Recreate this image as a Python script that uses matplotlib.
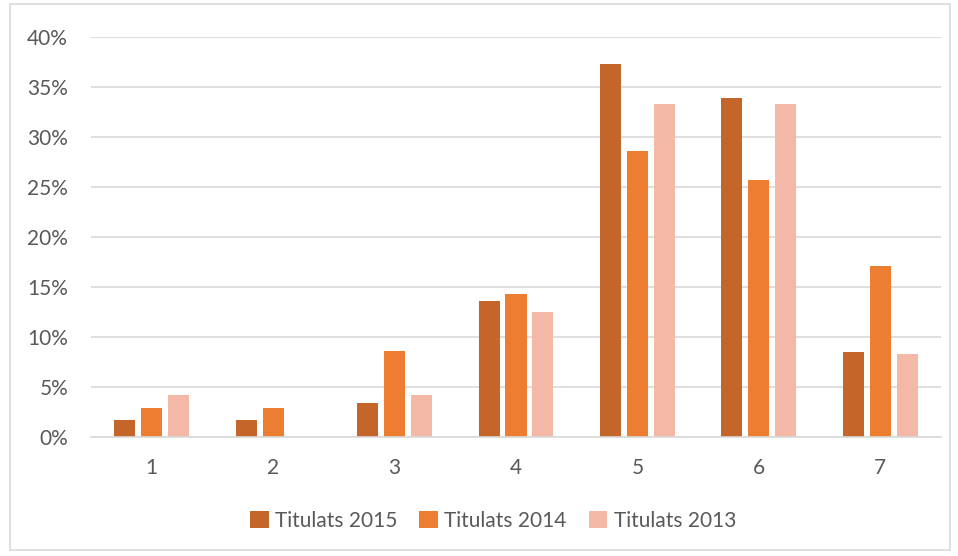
import matplotlib.pyplot as plt
import numpy as np
from matplotlib.patches import Rectangle
from matplotlib.ticker import PercentFormatter

# Dades del grafic
categories = ['1', '2', '3', '4', '5', '6', '7']
titulats_2015 = [1.69, 1.69, 3.39, 13.56, 37.29, 33.90, 8.47]
titulats_2014 = [2.86, 2.86, 8.57, 14.29, 28.57, 25.71, 17.14]
titulats_2013 = [4.17, 0.0, 4.17, 12.50, 33.33, 33.33, 8.33]
series_names = ['Titulats 2015', 'Titulats 2014', 'Titulats 2013']
colors = ['#C4662A', '#ED7D31', '#F4B9A6']

plt.rcParams['font.family'] = ['Lato', 'DejaVu Sans']
text_color = '#595959'

fig = plt.figure(figsize=(9.58, 5.56), dpi=100)
ax = fig.add_axes([91 / 958, 1 - 437 / 556, 850 / 958, 400 / 556])

x = np.arange(len(categories))
w = 0.173
step = 0.222
for k, vals in enumerate([titulats_2015, titulats_2014, titulats_2013]):
    ax.bar(x + (k - 1) * step, vals, width=w, color=colors[k],
           label=series_names[k], zorder=3)

ax.set_xlim(-0.5, len(categories) - 0.5)
ax.set_ylim(0, 40)
ax.set_yticks(np.arange(0, 41, 5))
ax.yaxis.set_major_formatter(PercentFormatter(decimals=0))
ax.set_xticks(x)
ax.set_xticklabels(categories)
ax.grid(axis='y', color='#D9D9D9', linewidth=1.2, zorder=0)
ax.tick_params(axis='both', length=0, colors=text_color, labelsize=15)
ax.tick_params(axis='x', pad=15)
ax.tick_params(axis='y', pad=16.5)
for s in ['top', 'right', 'left']:
    ax.spines[s].set_visible(False)
ax.spines['bottom'].set_color('#D9D9D9')
ax.spines['bottom'].set_linewidth(1.2)
ax.spines['bottom'].set_zorder(4)

leg = fig.legend(loc='center', bbox_to_anchor=(493 / 958, 1 - 521 / 556), ncol=3,
                 frameon=False, fontsize=15, handlelength=0.9, handleheight=0.9,
                 columnspacing=1.05, handletextpad=0.3)
for t in leg.get_texts():
    t.set_color(text_color)

# Vora del grafic
fig.patches.append(Rectangle((10 / 958, 6 / 556), 940 / 958, 546 / 556,
                             transform=fig.transFigure, fill=False,
                             edgecolor='#D9D9D9', linewidth=1.2))

fig.savefig('out.png', dpi=100)
